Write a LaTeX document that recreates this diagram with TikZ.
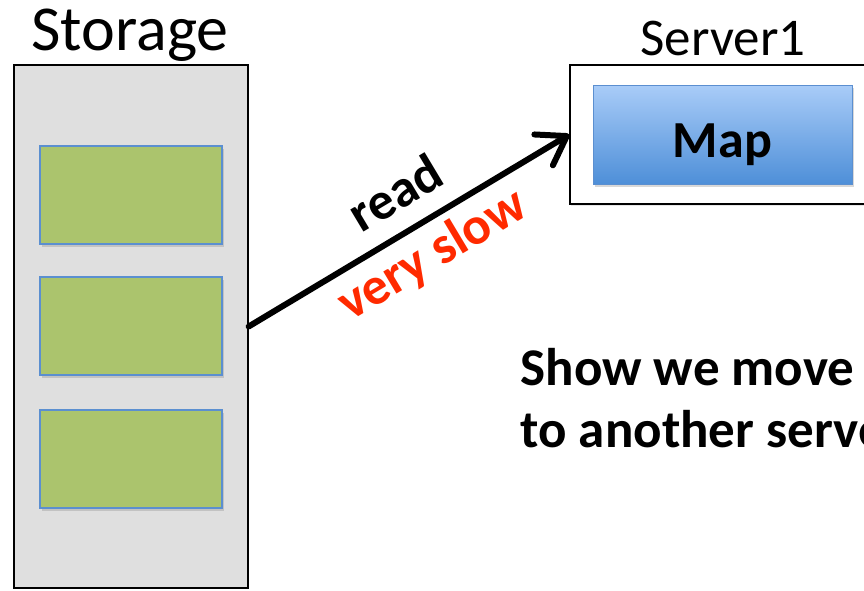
\documentclass[tikz,border=0pt]{standalone}
\usepackage{fontspec}
\setmainfont{Carlito}
\usepackage{tikz}
\usetikzlibrary{positioning}
\usetikzlibrary{arrows.meta}
\usetikzlibrary{shadows}

\definecolor{storegray}{HTML}{DFDFDF}
\definecolor{blockgreen}{HTML}{ABC46D}
\definecolor{blockedge}{HTML}{5B8FD0}
\definecolor{maptop}{HTML}{A9CCF8}
\definecolor{mapbottom}{HTML}{4E8FD8}
\definecolor{slowred}{HTML}{FF2A00}

\begin{document}
\begin{tikzpicture}[x=1pt, y=-1pt,
    box/.style={draw=black, line width=1.3pt, inner sep=0pt},
    block/.style={draw=blockedge, line width=1.3pt, fill=blockgreen, inner sep=0pt,
        minimum width=182pt, minimum height=98pt,
        drop shadow={shadow xshift=1.5pt, shadow yshift=-3pt, opacity=0.3}},
    flow/.style={line width=6pt, line cap=round, line join=round,
        -{Straight Barb[length=27pt, width=36pt, line cap=round, line join=round]}},
    title/.style={font=\fontsize{64}{70}\selectfont, anchor=base},
    tag/.style={inner sep=0pt, sloped, font=\bfseries\fontsize{53}{60}\selectfont}]
    \useasboundingbox (0,0) rectangle (864,590);
    \clip (0,0) rectangle (864,590);

    % storage with its three blocks
    \node[box, fill=storegray, minimum width=234pt, minimum height=523pt,
        drop shadow={shadow xshift=1pt, shadow yshift=-1pt, opacity=0.2}] (store) at (131,326.5) {};
    \node[title] (storelbl) at (130,50) {Storage};
    \foreach \y/\n in {195/1, 326/2, 459/3}
        \node[block] (blk\n) at (131,\y) {};

    % server running the map task
    \node[box, fill=white, minimum width=305pt, minimum height=139pt,
        drop shadow={shadow xshift=1pt, shadow yshift=-1.5pt, opacity=0.2}] (srv) at (722.5,134.5) {};
    \node[title, font=\fontsize{53}{60}\selectfont] (srvlbl) at (723,55) {Server1};
    \node[draw=blockedge, line width=1pt, top color=maptop, bottom color=mapbottom,
        minimum width=259pt, minimum height=99pt, inner sep=0pt,
        text height=45pt, text depth=0pt,
        font=\bfseries\fontsize{52}{60}\selectfont,
        drop shadow={shadow xshift=1.5pt, shadow yshift=-3pt, opacity=0.3}] (map) at (722.5,134.5) {Map};

    \draw[flow] (store.east) -- node[tag, pos=0.52, above=18pt] (rd) {read}
        node[tag, pos=0.52, below=8pt, text=slowred] (slow) {very slow} (srv.west);

    \node[anchor=base west, align=left, font=\bfseries\fontsize{53}{62}\selectfont] (note) at (517,447)
        {Show we move\\to another server};
\end{tikzpicture}
\end{document}
